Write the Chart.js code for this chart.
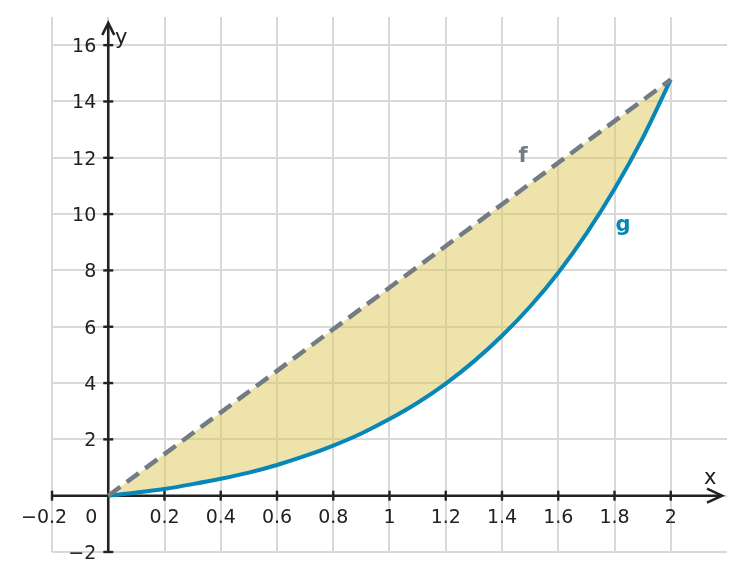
<!DOCTYPE html>
<html>
<head>
<meta charset="utf-8">
<script src="https://cdn.jsdelivr.net/npm/chart.js@4"></script>
<style>
  html, body { margin: 0; padding: 0; background: #fff; }
  #wrap { width: 746px; height: 581px; }
</style>
</head>
<body>
<div id="wrap"><canvas id="areaChart"></canvas></div>
<script>
// values
const xTicks = [-0.2, 0, 0.2, 0.4, 0.6, 0.8, 1, 1.2, 1.4, 1.6, 1.8, 2];
const xTickLabels = ["\u22120.2", "0", "0.2", "0.4", "0.6", "0.8", "1", "1.2", "1.4", "1.6", "1.8", "2"];
const yTicks = [-2, 0, 2, 4, 6, 8, 10, 12, 14, 16];
const yTickLabels = ["\u22122", "", "2", "4", "6", "8", "10", "12", "14", "16"];

// f: straight dashed line
const fX = [0, 2];
const fY = [0, 14.78];

// g: curve
const gX = [0, 0.1, 0.2, 0.3, 0.4, 0.5, 0.6, 0.7, 0.8, 0.9, 1, 1.1, 1.2, 1.3, 1.4, 1.5, 1.6, 1.7, 1.8, 1.9, 2];
const gY = [0, 0.11, 0.24, 0.41, 0.6, 0.82, 1.09, 1.41, 1.78, 2.21, 2.72, 3.3, 3.98, 4.77, 5.68, 6.72, 7.92, 9.31, 10.89, 12.7, 14.78];

const AXIS = "#222222";
const GRID = "#d9d9d9";
const F_COLOR = "#737c84";
const G_COLOR = "#0787b8";
const FONT = "DejaVu Sans";

const toPoints = (xs, ys) => xs.map((x, i) => ({ x: x, y: ys[i] }));

// axes through the origin, arrows, tick marks and labels
const axesPlugin = {
    id: "axesPlugin",
    beforeDatasetsDraw(chart) {
        const ctx = chart.ctx;
        const sx = chart.scales.x, sy = chart.scales.y;
        const area = chart.chartArea;
        const ox = sx.getPixelForValue(0), oy = sy.getPixelForValue(0);
        ctx.save();
        ctx.strokeStyle = AXIS;
        ctx.lineWidth = 2.6;
        ctx.lineCap = "butt";
        // x axis
        ctx.beginPath();
        ctx.moveTo(area.left, oy);
        ctx.lineTo(area.right - 5, oy);
        ctx.stroke();
        // y axis
        ctx.beginPath();
        ctx.moveTo(ox, area.bottom);
        ctx.lineTo(ox, area.top + 6);
        ctx.stroke();
        // arrows
        ctx.lineJoin = "miter";
        ctx.beginPath();
        ctx.moveTo(area.right - 20, oy - 7);
        ctx.lineTo(area.right - 5, oy);
        ctx.lineTo(area.right - 20, oy + 7);
        ctx.stroke();
        ctx.beginPath();
        ctx.moveTo(ox - 6, area.top + 18);
        ctx.lineTo(ox, area.top + 6);
        ctx.lineTo(ox + 6, area.top + 18);
        ctx.stroke();
        // tick marks
        ctx.lineWidth = 2.4;
        xTicks.forEach(v => {
            if (v === 0) return;
            const px = sx.getPixelForValue(v);
            ctx.beginPath();
            ctx.moveTo(px, oy - 5);
            ctx.lineTo(px, oy + 5);
            ctx.stroke();
        });
        yTicks.forEach(v => {
            if (v === 0) return;
            const py = sy.getPixelForValue(v);
            ctx.beginPath();
            ctx.moveTo(ox - 5, py);
            ctx.lineTo(ox + 5, py);
            ctx.stroke();
        });
        ctx.restore();
    },
    afterDatasetsDraw(chart) {
        const ctx = chart.ctx;
        const sx = chart.scales.x, sy = chart.scales.y;
        const ox = sx.getPixelForValue(0), oy = sy.getPixelForValue(0);
        ctx.save();
        ctx.fillStyle = AXIS;
        ctx.font = "19px '" + FONT + "'";
        ctx.textBaseline = "alphabetic";
        // x tick labels
        xTicks.forEach((v, i) => {
            const label = xTickLabels[i];
            const px = sx.getPixelForValue(v);
            if (v === 0) {
                ctx.textAlign = "center";
                ctx.fillText(label, ox - 17, oy + 27);
            } else if (v < 0) {
                const half = ctx.measureText(label.slice(1)).width / 2;
                ctx.textAlign = "right";
                ctx.fillText(label, px + half, oy + 27);
            } else {
                ctx.textAlign = "center";
                ctx.fillText(label, px, oy + 27);
            }
        });
        // y tick labels
        ctx.textAlign = "right";
        yTicks.forEach((v, i) => {
            if (!yTickLabels[i]) return;
            ctx.fillText(yTickLabels[i], ox - 12, sy.getPixelForValue(v) + 7);
        });
        // axis names
        ctx.font = "21px '" + FONT + "'";
        ctx.textAlign = "center";
        ctx.fillText("x", sx.getPixelForValue(2.14), oy - 12);
        ctx.fillText("y", ox + 13, sy.getPixelForValue(16.3) + 7);
        // curve names
        ctx.font = "bold 21px '" + FONT + "'";
        ctx.fillStyle = F_COLOR;
        ctx.fillText("f", sx.getPixelForValue(1.475), sy.getPixelForValue(12.1) + 7);
        ctx.fillStyle = G_COLOR;
        ctx.fillText("g", sx.getPixelForValue(1.83), sy.getPixelForValue(9.6) + 6);
        ctx.restore();
    }
};

const areaConfig = {
    type: "scatter",
    data: {
        datasets: [
            {
                label: "f",
                data: toPoints(fX, fY),
                showLine: true,
                borderColor: F_COLOR,
                borderWidth: 4.5,
                borderDash: [15, 8],
                pointRadius: 0,
                fill: false,
            },
            {
                label: "g",
                data: toPoints(gX, gY),
                showLine: true,
                borderColor: G_COLOR,
                borderWidth: 4,
                cubicInterpolationMode: "monotone",
                pointRadius: 0,
                fill: { target: 0 },
                backgroundColor: "rgba(222, 200, 86, 0.5)",
            },
        ],
    },
    options: {
        responsive: true,
        maintainAspectRatio: false,
        animation: false,
        events: [],
        layout: {
            padding: { left: 52, top: 17, right: 19, bottom: 29 },
        },
        plugins: {
            legend: { display: false },
            tooltip: { enabled: false },
            filler: { propagate: false },
        },
        scales: {
            x: {
                type: "linear",
                min: -0.2,
                max: 2.2,
                afterBuildTicks: scale => { scale.ticks = xTicks.map(v => ({ value: v })); },
                ticks: { display: false },
                border: { display: false },
                grid: { color: GRID, lineWidth: 2, drawTicks: false },
            },
            y: {
                type: "linear",
                min: -2,
                max: 17,
                afterBuildTicks: scale => { scale.ticks = yTicks.map(v => ({ value: v })); },
                ticks: { display: false },
                border: { display: false },
                grid: { color: GRID, lineWidth: 2, drawTicks: false },
            },
        },
    },
    plugins: [axesPlugin],
};

const areaCtx = document.getElementById("areaChart");
window.areaChart = new Chart(areaCtx, areaConfig);
</script>
</body>
</html>
